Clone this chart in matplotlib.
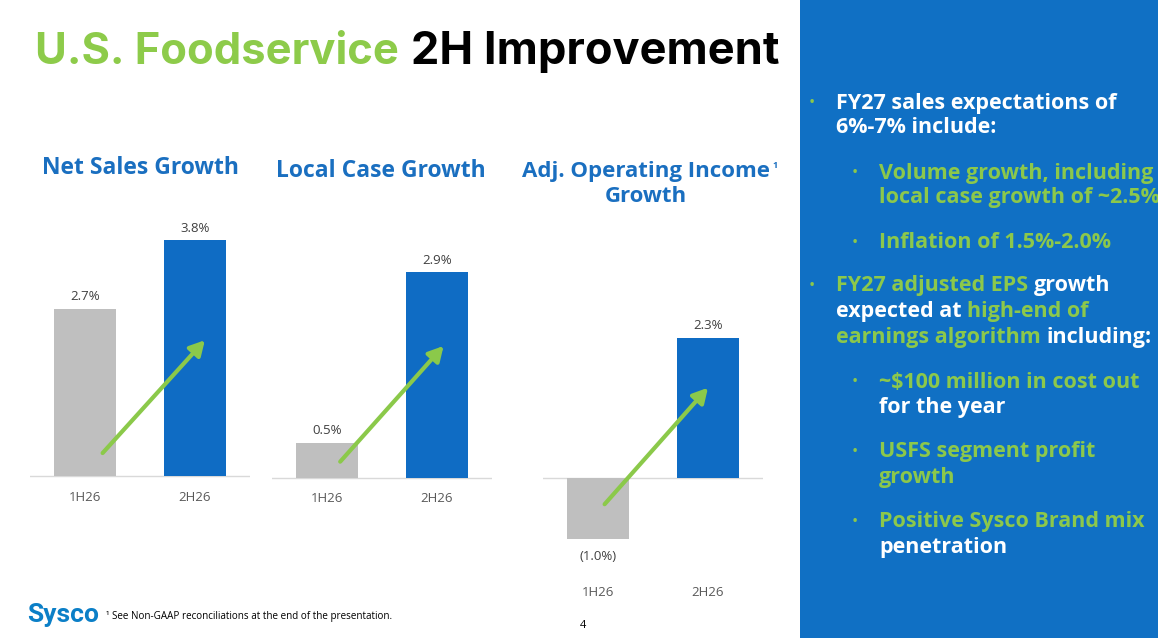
import matplotlib
matplotlib.use("Agg")
import matplotlib.pyplot as plt
from matplotlib.patches import Rectangle

plt.rcParams["font.family"] = ["Open Sans", "DejaVu Sans"]

W, H = 1158, 638

# ---- data ----
PERIODS = ["1H26", "2H26"]
NET_SALES = [2.7, 3.8]
LOCAL_CASE = [0.5, 2.9]
ADJ_OP_INCOME = [-1.0, 2.3]
CHART_TITLES = ["Net Sales Growth", "Local Case Growth", "Adj. Operating Income\nGrowth"]

BAR_COLORS = ["#BFBFBF", "#0F6CC4"]
BLUE = "#1070C4"
TITLE_BLUE = "#1A6FC0"
GREEN = "#8DCB4A"
PANEL_GREEN = "#8CC84B"
ARROW_GREEN = "#8BC94A"
GRAY_TXT = "#404040"


def fx(px):
    return px / W


def fy(py):
    return 1 - py / H


def fmt_pct(v):
    return f"({abs(v):.1f}%)" if v < 0 else f"{v:.1f}%"


fig = plt.figure(figsize=(W / 100, H / 100), dpi=100)
fig.patch.set_facecolor("white")

# right-hand blue panel
fig.patches.append(Rectangle((fx(800), 0), 1 - fx(800), 1, transform=fig.transFigure,
                             facecolor=BLUE, edgecolor="none", zorder=0))

# overlay axes used for chained text segments
overlay = fig.add_axes([0, 0, 1, 1], zorder=5)
overlay.axis("off")

# main title (two colours)
TITLE_FONT = ["Inter", "DejaVu Sans"]
fig.text(fx(35), fy(52), "U.S. Foodservice", fontsize=31.3, fontweight="bold",
         family=TITLE_FONT, color=GREEN, va="center")
fig.text(fx(411), fy(52), "2H Improvement", fontsize=32.5, fontweight="bold",
         family=TITLE_FONT, color="black", va="center")

# chart layouts: x-left, x-right, baseline px, px per %, bottom px, top px, arrow
LAYOUT = [
    dict(vals=NET_SALES, x0=30, x1=250, base=476, ppu=62, bot=488, top=215,
         arr=((0.16, 0.37), (1.09, 2.19)), title_xy=(141, 168), tfs=16.5),
    dict(vals=LOCAL_CASE, x0=272, x1=492, base=478, ppu=71, bot=489, top=240,
         arr=((0.12, 0.23), (1.06, 1.86)), title_xy=(381, 171), tfs=16.5),
    dict(vals=ADJ_OP_INCOME, x0=543, x1=763, base=478, ppu=61, bot=583, top=300,
         arr=((0.06, -0.43), (1.0, 1.48)), title_xy=(646, 184), tfs=16),
]

for spec, title in zip(LAYOUT, CHART_TITLES):
    ymin = -(spec["bot"] - spec["base"]) / spec["ppu"]
    ymax = (spec["base"] - spec["top"]) / spec["ppu"]
    ax = fig.add_axes([fx(spec["x0"]), fy(spec["bot"]),
                       (spec["x1"] - spec["x0"]) / W, (spec["bot"] - spec["top"]) / H])
    ax.set_xlim(-0.5, 1.5)
    ax.set_ylim(ymin, ymax)
    ax.patch.set_alpha(0)
    for s in ax.spines.values():
        s.set_visible(False)
    ax.set_yticks([])
    ax.set_xticks(range(len(PERIODS)), PERIODS)
    ax.tick_params(axis="x", length=0, pad=2, labelsize=9.5, labelcolor="#595959")

    vals = spec["vals"]
    ax.bar(range(len(vals)), vals, width=0.57, color=BAR_COLORS, zorder=2)
    ax.axhline(0, color="#D9D9D9", lw=1, zorder=1)

    for i, v in enumerate(vals):
        if v >= 0:
            ax.annotate(fmt_pct(v), (i, v), xytext=(0, 4), textcoords="offset points",
                        ha="center", va="bottom", fontsize=9.5, color=GRAY_TXT)
        else:
            ax.annotate(fmt_pct(v), (i, v), xytext=(0, -8), textcoords="offset points",
                        ha="center", va="top", fontsize=9.5, color=GRAY_TXT)

    (sx, sy), (ex, ey) = spec["arr"]
    ax.annotate("", xy=(ex, ey), xytext=(sx, sy), zorder=3,
                arrowprops=dict(arrowstyle="-|>,head_length=0.55,head_width=0.3",
                                mutation_scale=16, lw=3, color=ARROW_GREEN,
                                shrinkA=0, shrinkB=0))

    tx, ty = spec["title_xy"]
    fig.text(fx(tx), fy(ty), title, ha="center", va="center", fontsize=spec["tfs"],
             fontweight="bold", color=TITLE_BLUE, linespacing=1.3)

# superscript on the third chart title
fig.text(fx(775), fy(165), "1", fontsize=6.5, fontweight="bold", color=TITLE_BLUE,
         ha="center", va="center")

# ---- right panel bullets ----
W_ = "white"
G_ = PANEL_GREEN
PANEL_LINES = [
    (1, 103, True, [("FY27 sales expectations of", W_)]),
    (1, 128, False, [("6%-7% include:", W_)]),
    (2, 173, True, [("Volume growth, including", G_)]),
    (2, 198, False, [("local case growth of ~2.5%", G_)]),
    (2, 243, True, [("Inflation of 1.5%-2.0%", G_)]),
    (1, 286, True, [("FY27 adjusted EPS", G_), ("growth", W_)]),
    (1, 312, False, [("expected at", W_), ("high-end of", G_)]),
    (1, 338, False, [("earnings algorithm", G_), ("including:", W_)]),
    (2, 382, True, [("~$100 million in cost out", G_)]),
    (2, 408, False, [("for the year", W_)]),
    (2, 452, True, [("USFS segment profit", G_)]),
    (2, 478, False, [("growth", G_)]),
    (2, 522, True, [("Positive Sysco Brand mix", G_)]),
    (2, 548, False, [("penetration", W_)]),
]
BULLET_X = {1: 812, 2: 855}
TEXT_X = {1: 836, 2: 879}
PANEL_FS = 15.5

for level, y, bullet, segs in PANEL_LINES:
    if bullet:
        fig.text(fx(BULLET_X[level]), fy(y), "\u2022", fontsize=12, color=G_,
                 ha="center", va="center")
    prev = overlay.text(fx(TEXT_X[level]), fy(y), segs[0][0], fontsize=PANEL_FS,
                        fontweight="bold", color=segs[0][1], va="center")
    for txt, col in segs[1:]:
        prev = overlay.annotate(txt, xy=(1, 0), xycoords=prev, xytext=(4.2, 0),
                                textcoords="offset points", va="bottom", ha="left",
                                fontsize=PANEL_FS, fontweight="bold", color=col)

# ---- footer ----
fig.text(fx(27), fy(615), "Sysco", fontsize=19, fontweight="bold", color="#0B7FC7",
         family=["Liberation Sans Narrow", "Roboto", "DejaVu Sans"], va="center")
fig.text(fx(106), fy(616), "\u00b9 See Non-GAAP reconciliations at the end of the presentation.",
         fontsize=7.1, color="black", va="center")
fig.text(fx(583), fy(626), "4", fontsize=8, color="black", ha="center", va="center")

fig.savefig("out.png", dpi=100)
